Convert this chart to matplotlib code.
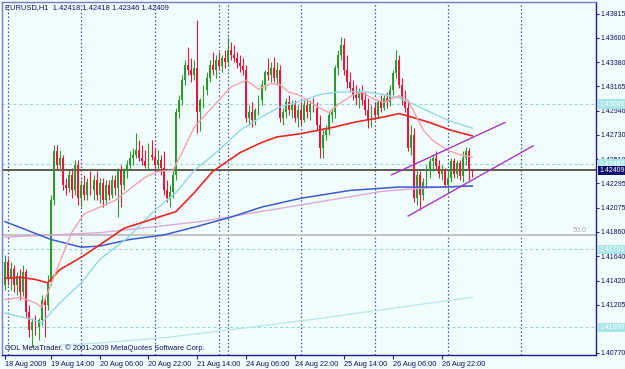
import matplotlib
matplotlib.use('Agg')
import matplotlib.pyplot as plt
import numpy as np

plt.rcParams['font.family'] = ['Liberation Sans', 'DejaVu Sans']

# EURUSD H1 bars, 18 Aug 23:00 .. 27 Aug 08:00 (bar index 0..153)
first_open = 1.4138
closes = [
    1.4159, 1.4144, 1.4152, 1.4138, 1.4146, 1.4132, 1.4150, 1.4114, 1.4098, 1.4105,
    1.4100, 1.4107, 1.4125, 1.4120, 1.4141, 1.4214, 1.4258, 1.4246, 1.4252, 1.4228,
    1.4225, 1.4237, 1.4223, 1.4246, 1.4216, 1.4228, 1.4219, 1.4231, 1.4223, 1.4232,
    1.4219, 1.4230, 1.4214, 1.4228, 1.4219, 1.4232, 1.4225, 1.4240, 1.4228, 1.4240,
    1.4246, 1.4252, 1.4255, 1.4259, 1.4252, 1.4249, 1.4245, 1.4255, 1.4253, 1.4246,
    1.4250, 1.4243, 1.4223, 1.4216, 1.4222, 1.4237, 1.4293, 1.4304, 1.4322, 1.4336,
    1.4331, 1.4327, 1.4333, 1.4293, 1.4304, 1.4313, 1.4324, 1.4336, 1.4331, 1.4340,
    1.4335, 1.4342, 1.4338, 1.4349, 1.4345, 1.4342, 1.4337, 1.4335, 1.4331, 1.4288,
    1.4293, 1.4286, 1.4295, 1.4304, 1.4318, 1.4329, 1.4327, 1.4333, 1.4324, 1.4331,
    1.4288, 1.4293, 1.4302, 1.4295, 1.4300, 1.4288, 1.4295, 1.4286, 1.4300, 1.4293,
    1.4301, 1.4297, 1.4282, 1.4261, 1.4273, 1.4277, 1.4291, 1.4293, 1.4333, 1.4345,
    1.4354, 1.4331, 1.4320, 1.4315, 1.4309, 1.4306, 1.4311, 1.4304, 1.4295, 1.4286,
    1.4297, 1.4291, 1.4302, 1.4297, 1.4306, 1.4302, 1.4313, 1.4328, 1.4340, 1.4318,
    1.4304, 1.4297, 1.4261, 1.4273, 1.4216, 1.4237, 1.4219, 1.4231, 1.4241, 1.4249,
    1.4252, 1.4245, 1.4238, 1.4241, 1.4228, 1.4234, 1.4249, 1.4238, 1.4248, 1.4236,
    1.4252, 1.4258, 1.42418, 1.42409]
highs = [
    1.4165, 1.4162, 1.4159, 1.4156, 1.4150, 1.4152, 1.4156, 1.4152, 1.4120, 1.4108,
    1.4111, 1.4108, 1.4129, 1.4126, 1.4147, 1.4219, 1.4264, 1.4264, 1.4259, 1.4255,
    1.4234, 1.4241, 1.4243, 1.4250, 1.4250, 1.4232, 1.4237, 1.4234, 1.4240, 1.4237,
    1.4240, 1.4234, 1.4234, 1.4232, 1.4232, 1.4237, 1.4237, 1.4243, 1.4246, 1.4243,
    1.4250, 1.4258, 1.4261, 1.4275, 1.4268, 1.4264, 1.4259, 1.4266, 1.4268, 1.4261,
    1.4259, 1.4255, 1.4258, 1.4232, 1.4228, 1.4243, 1.4297, 1.4309, 1.4327, 1.4340,
    1.4352, 1.4342, 1.4340, 1.4376, 1.4306, 1.4318, 1.4329, 1.4340, 1.4347, 1.4345,
    1.4347, 1.4345, 1.4349, 1.4361, 1.4356, 1.4354, 1.4347, 1.4345, 1.4342, 1.4336,
    1.4300, 1.4302, 1.4297, 1.4309, 1.4322, 1.4331, 1.4342, 1.4338, 1.4343, 1.4338,
    1.4336, 1.4297, 1.4306, 1.4309, 1.4304, 1.4304, 1.4300, 1.4302, 1.4304, 1.4306,
    1.4304, 1.4306, 1.4302, 1.4291, 1.4277, 1.4282, 1.4293, 1.4297, 1.4336, 1.4349,
    1.4361, 1.4360, 1.4345, 1.4329, 1.4322, 1.4318, 1.4315, 1.4318, 1.4311, 1.4306,
    1.4300, 1.4302, 1.4304, 1.4309, 1.4309, 1.4311, 1.4318, 1.4331, 1.4349, 1.4345,
    1.4324, 1.4313, 1.4304, 1.4282, 1.4279, 1.4241, 1.4240, 1.4234, 1.4246, 1.4252,
    1.4255, 1.4258, 1.4250, 1.4246, 1.4243, 1.4240, 1.4252, 1.4252, 1.4250, 1.4250,
    1.4258, 1.4262, 1.4261, 1.42418]
lows = [
    1.4134, 1.4138, 1.4134, 1.4132, 1.4129, 1.4125, 1.4128, 1.4108, 1.4091, 1.4082,
    1.4093, 1.4089, 1.4102, 1.4091, 1.4116, 1.4138, 1.4210, 1.4241, 1.4240, 1.4223,
    1.4219, 1.4222, 1.4216, 1.4219, 1.4210, 1.4208, 1.4214, 1.4214, 1.4219, 1.4214,
    1.4214, 1.4212, 1.4208, 1.4210, 1.4214, 1.4216, 1.4219, 1.4199, 1.4208, 1.4223,
    1.4234, 1.4241, 1.4246, 1.4252, 1.4249, 1.4246, 1.4243, 1.4241, 1.4250, 1.4240,
    1.4241, 1.4237, 1.4219, 1.4213, 1.4208, 1.4216, 1.4232, 1.4288, 1.4300, 1.4318,
    1.4327, 1.4320, 1.4322, 1.4275, 1.4276, 1.4297, 1.4309, 1.4320, 1.4327, 1.4324,
    1.4331, 1.4329, 1.4333, 1.4335, 1.4340, 1.4338, 1.4333, 1.4329, 1.4327, 1.4284,
    1.4282, 1.4280, 1.4282, 1.4291, 1.4300, 1.4313, 1.4322, 1.4320, 1.4320, 1.4318,
    1.4284, 1.4282, 1.4288, 1.4291, 1.4288, 1.4284, 1.4280, 1.4282, 1.4284, 1.4288,
    1.4286, 1.4293, 1.4277, 1.4252, 1.4252, 1.4268, 1.4273, 1.4284, 1.4288, 1.4327,
    1.4340, 1.4327, 1.4315, 1.4311, 1.4304, 1.4300, 1.4297, 1.4300, 1.4291, 1.4279,
    1.4280, 1.4286, 1.4288, 1.4293, 1.4295, 1.4297, 1.4299, 1.4309, 1.4324, 1.4315,
    1.4300, 1.4293, 1.4258, 1.4255, 1.4213, 1.4210, 1.4205, 1.4214, 1.4225, 1.4234,
    1.4240, 1.4241, 1.4234, 1.4232, 1.4225, 1.4221, 1.4231, 1.4234, 1.4234, 1.4232,
    1.4231, 1.4246, 1.4232, 1.42346]

# moving averages (bar index, price)
red_ma_idx = [0, 5, 10, 14, 18, 25, 31, 39, 48, 56, 62, 68, 77, 84, 89, 97, 108, 114, 124, 129, 133, 139, 146, 153]
red_ma = [1.4144, 1.4145, 1.4143, 1.4140, 1.4152, 1.4163, 1.4174, 1.4189, 1.4197, 1.4204, 1.4221, 1.4240,
          1.4257, 1.4266, 1.4271, 1.4274, 1.4280, 1.4284, 1.4289, 1.4292, 1.4289, 1.4284, 1.4277, 1.4272]
pink_ma_idx = [0, 5, 10, 12, 15, 18, 22, 26, 31, 36, 46, 50, 55, 58, 62, 67, 74, 79, 83, 87,
               90, 93, 96, 103, 106, 109, 114, 117, 120, 124, 129, 132, 134, 137, 140, 145, 149, 153]
pink_ma = [1.4125, 1.4127, 1.4122, 1.4118, 1.4138, 1.4159, 1.4186, 1.4202, 1.4208, 1.4214,
           1.4235, 1.4240, 1.4241, 1.4257, 1.4280, 1.4295, 1.4316, 1.4322, 1.4314, 1.4319,
           1.4318, 1.4311, 1.4309, 1.4297, 1.4293, 1.4300, 1.4309, 1.4311, 1.4306, 1.4302,
           1.4308, 1.4304, 1.4293, 1.4277, 1.4268, 1.4259, 1.4255, 1.4253]
cyan_ma_idx = [0, 9, 12, 18, 25, 31, 40, 49, 56, 62, 70, 77, 84, 90, 98, 103, 108, 117, 124, 129, 134, 145, 153]
cyan_ma = [1.4113, 1.4107, 1.4104, 1.4122, 1.4140, 1.4161, 1.4180, 1.4205, 1.4221, 1.4241, 1.4259, 1.4277,
           1.4289, 1.4298, 1.4304, 1.4309, 1.4311, 1.4312, 1.4309, 1.4306, 1.4300, 1.4286, 1.4279]
slow_ma_idx = [18, 31, 53, 80, 103, 129, 153]
slow_ma = [1.4084, 1.4086, 1.4091, 1.4100, 1.4108, 1.4118, 1.4127]
blue_ma_idx = [0, 15, 25, 31, 41, 52, 62, 74, 84, 97, 113, 129, 143, 153]
blue_ma = [1.4195, 1.4179, 1.4172, 1.4173, 1.4179, 1.4183, 1.4190, 1.4199, 1.4208, 1.4216, 1.4223, 1.4226, 1.4226, 1.4227]
plum_ma_idx = [0, 31, 64, 97, 123, 136, 153]
plum_ma = [1.4181, 1.4185, 1.4195, 1.4210, 1.4222, 1.4225, 1.4227]

# channel trend lines
chan_upper_idx = [126.6, 163.7]
chan_upper = [1.4237, 1.4284]
chan_lower_idx = [132.0, 172.9]
chan_lower = [1.4200, 1.4263]

levels = [1.43006, 1.42467, 1.41701, 1.41000]
level_labels = ['1.43006', '1.42467', '1.41701', '1.41000']
fib50 = 1.41830
bid = 1.42409

separators = [1, 25, 49, 70, 73, 97, 121, 145, 169]
time_ticks = [0, 15, 31, 47, 63, 79, 95, 111, 127, 143]
time_labels = ['18 Aug 2009', '19 Aug 14:00', '20 Aug 06:00', '20 Aug 22:00', '21 Aug 14:00',
               '24 Aug 06:00', '24 Aug 22:00', '25 Aug 14:00', '26 Aug 06:00', '26 Aug 22:00']
price_ticks = [1.43815, 1.43600, 1.43380, 1.43165, 1.42946, 1.42730, 1.42510, 1.42295,
               1.42075, 1.41860, 1.41640, 1.41420, 1.41205, 1.40770]

bg = '#f2fefe'
navy = '#1c1c8c'
txt = '#101060'

fig = plt.figure(figsize=(6.25, 3.69), dpi=100, facecolor=bg)
ax = fig.add_axes([2 / 625, 14 / 369, 594 / 625, 353 / 369])
ax.set_facecolor(bg)
ax.set_xlim(-0.96, 193.5)
ax.set_ylim(1.40752, 1.43922)

for s in ['left', 'top']:
    ax.spines[s].set_color('#7878c8')
for s in ['right', 'bottom']:
    ax.spines[s].set_color(navy)
for s in ax.spines.values():
    s.set_linewidth(1.0)

# separators, levels
for sx in separators:
    ax.axvline(sx, color='#4848b0', lw=0.9, ls=(0, (1.2, 1.8)), zorder=1)
for lv in levels:
    ax.axhline(lv, color='#8fd6d6', lw=0.8, ls=(0, (2.5, 2.5)), zorder=1)
ax.axhline(fib50, color='#c4c4c4', lw=1.5, zorder=1)
ax.text(190.6, fib50 + 0.00008, '50.0', ha='right', va='bottom', fontsize=5.2, color='#a8a8a8')
ax.axhline(bid, color='#5c5c48', lw=1.4, zorder=2)

# candles
opens = [first_open] + closes[:-1]
x = np.arange(len(closes))
o = np.array(opens)
c = np.array(closes)
h = np.array(highs)
l = np.array(lows)
up = c >= o
bull, bear = '#2e9a2e', '#e8163c'
cols = np.where(up, bull, bear)
ax.vlines(x, l, h, colors=cols, lw=0.8, zorder=3)
body_b = np.minimum(o, c)
body_h = np.maximum(np.abs(c - o), 0.00003)
ax.bar(x, body_h, bottom=body_b, width=0.62, color=cols, linewidth=0, zorder=3)

# moving averages
ax.plot(slow_ma_idx, slow_ma, color='#b6e6ea', lw=0.9, zorder=4)
ax.plot(plum_ma_idx, plum_ma, color='#dba8dc', lw=1.0, zorder=4)
ax.plot(blue_ma_idx, blue_ma, color='#3c5ad2', lw=1.1, zorder=4)
ax.plot(cyan_ma_idx, cyan_ma, color='#92d8e2', lw=1.0, zorder=4)
ax.plot(red_ma_idx, red_ma, color='#ee2424', lw=1.2, zorder=4)
ax.plot(pink_ma_idx, pink_ma, color='#f2a2aa', lw=1.0, zorder=4)

ax.plot(chan_upper_idx, chan_upper, color='#a238c4', lw=1.0, zorder=5)
ax.plot(chan_lower_idx, chan_lower, color='#a238c4', lw=1.0, zorder=5)

# axes ticks
ax.yaxis.tick_right()
ax.set_yticks(price_ticks)
ax.set_yticklabels(['%.5f' % p for p in price_ticks])
ax.tick_params(axis='y', length=2, width=0.8, colors=navy, labelsize=5.0, pad=1.5)
ax.set_xticks(time_ticks)
ax.set_xticklabels(time_labels, ha='left')
ax.tick_params(axis='x', length=3, width=0.8, colors=navy, labelsize=5.3, pad=1.5)
ax.tick_params(labelcolor=txt)

# right side price boxes
ytr = ax.get_yaxis_transform()
for lv, lab in zip(levels, level_labels):
    ax.text(1.005, lv, lab, transform=ytr, ha='left', va='center', fontsize=5.0, color='white',
            clip_on=False, zorder=10,
            bbox=dict(boxstyle='square,pad=0.15', fc='#a8e6e8', ec='none'))
ax.text(1.005, bid, '1.42409', transform=ytr, ha='left', va='center', fontsize=5.0, color='white',
        clip_on=False, zorder=11, bbox=dict(boxstyle='square,pad=0.15', fc='#10106e', ec='none'))

fig.text(5 / 625, 1 - 8 / 369, 'EURUSD,H1  1.42418 1.42418 1.42346 1.42409', ha='left', va='center',
         fontsize=5.4, color=txt)
fig.text(5 / 625, 1 - 348 / 369, 'ODL MetaTrader, \u00a9 2001-2009 MetaQuotes Software Corp.', ha='left',
         va='center', fontsize=5.4, color=txt)

fig.savefig('out.png', dpi=100, facecolor=bg)
